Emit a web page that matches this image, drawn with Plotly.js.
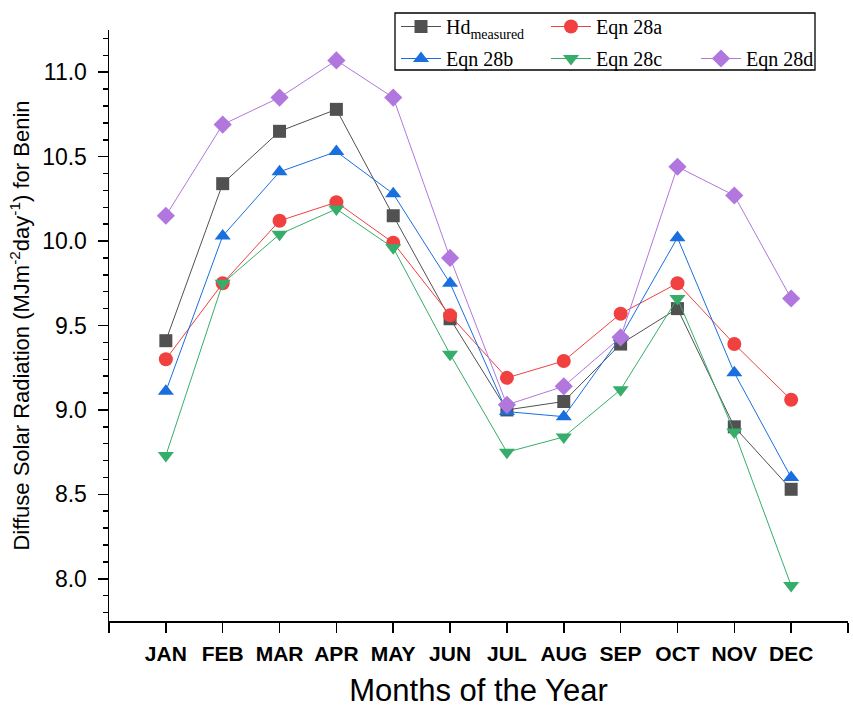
<!DOCTYPE html>
<html>
<head>
<meta charset="utf-8">
<script src="https://cdn.plot.ly/plotly-3.0.1.min.js"></script>
<style>html,body{margin:0;padding:0;background:#fff;}#chart{width:853px;height:708px;}</style>
</head>
<body>
<div id="chart"></div>
<script>
// ---- data ----
const months = ["JAN","FEB","MAR","APR","MAY","JUN","JUL","AUG","SEP","OCT","NOV","DEC"];
const monthIndex = [1,2,3,4,5,6,7,8,9,10,11,12];
const tickValues = [0,1,2,3,4,5,6,7,8,9,10,11,12,13];
const tickLabels = ["","JAN","FEB","MAR","APR","MAY","JUN","JUL","AUG","SEP","OCT","NOV","DEC","--"];

const hdMeasured = [9.41, 10.34, 10.65, 10.78, 10.15, 9.54, 9.00, 9.05, 9.39, 9.60, 8.90, 8.53];
const eqn28a     = [9.30, 9.75, 10.12, 10.23, 9.99, 9.56, 9.19, 9.29, 9.57, 9.75, 9.39, 9.06];
const eqn28b     = [9.11, 10.03, 10.41, 10.53, 10.28, 9.75, 8.99, 8.96, 9.43, 10.02, 9.22, 8.60];
const eqn28c     = [8.73, 9.75, 10.04, 10.19, 9.96, 9.33, 8.75, 8.84, 9.12, 9.66, 8.87, 7.96];
const eqn28d     = [10.15, 10.69, 10.85, 11.07, 10.85, 9.90, 9.03, 9.14, 9.43, 10.44, 10.27, 9.66];

const seriesNames = ["Hd<sub>measured</sub>", "Eqn 28a", "Eqn 28b", "Eqn 28c", "Eqn 28d"];
const seriesValues = [hdMeasured, eqn28a, eqn28b, eqn28c, eqn28d];
const seriesColors = ["#515151", "#F14040", "#1A6FDF", "#37AD6B", "#B177DE"];
const seriesSymbols = ["square", "circle", "triangle-up", "triangle-down", "diamond"];
const seriesSizes = [13, 14, 14, 14, 14];
const seriesLegends = ["legend", "legend", "legend2", "legend2", "legend2"];

const traces = seriesValues.map((vals, i) => ({
  type: "scatter",
  mode: "lines+markers",
  x: monthIndex,
  y: vals,
  name: seriesNames[i],
  legend: seriesLegends[i],
  line: {color: seriesColors[i], width: 1},
  marker: {color: seriesColors[i], symbol: seriesSymbols[i], size: seriesSizes[i], line: {width: 0}},
  hoverinfo: "x+y"
}));

const PL = 109, PR = 848, PT = 30, PB = 621;
const px2x = p => (p - PL) / (PR - PL);
const px2y = p => (PB - p) / (PB - PT);

const legendCommon = {
  orientation: "h",
  bgcolor: "rgba(0,0,0,0)",
  borderwidth: 0,
  entrywidth: 95,
  entrywidthmode: "pixels",
  itemwidth: 40,
  xanchor: "left",
  yanchor: "top",
  font: {family: "Liberation Serif", size: 20, color: "#000"}
};

const layout = {
  width: 853,
  height: 708,
  paper_bgcolor: "#fff",
  plot_bgcolor: "#fff",
  margin: {l: PL, r: 853 - PR, t: PT, b: 708 - PB},
  showlegend: true,
  legend: Object.assign({}, legendCommon, {x: px2x(396), y: px2y(7)}),
  legend2: Object.assign({}, legendCommon, {x: px2x(396), y: px2y(39)}),
  xaxis: {
    range: [0, 13],
    tickmode: "array",
    tickvals: tickValues,
    ticktext: tickLabels,
    ticks: "outside",
    ticklen: 10,
    tickwidth: 1.5,
    tickcolor: "#000",
    showline: true,
    linecolor: "#000",
    linewidth: 1.5,
    showgrid: false,
    zeroline: false,
    tickfont: {family: "Liberation Sans", size: 21, color: "#000", weight: "bold"},
    ticklabelstandoff: 3,
    title: {text: "Months of the Year", font: {family: "Liberation Sans", size: 31, color: "#000"}, standoff: 18}
  },
  yaxis: {
    range: [7.75, 11.25],
    tickmode: "linear",
    tick0: 8,
    dtick: 0.5,
    tickformat: ".1f",
    ticks: "outside",
    ticklen: 10,
    tickwidth: 1.5,
    tickcolor: "#000",
    minor: {dtick: 0.1, tick0: 8, ticks: "outside", ticklen: 5, tickwidth: 1.5, tickcolor: "#000", showgrid: false},
    showline: true,
    linecolor: "#000",
    linewidth: 1.5,
    showgrid: false,
    zeroline: false,
    tickfont: {family: "Liberation Sans", size: 23, color: "#000"},
    ticklabelstandoff: 6,
    title: {text: "Diffuse Solar Radiation (MJm<sup>-2</sup>day<sup>-1</sup>) for Benin", font: {family: "Liberation Sans", size: 22, color: "#000"}, standoff: 6}
  },
  shapes: [{
    type: "rect", xref: "paper", yref: "paper",
    x0: px2x(395), x1: px2x(815), y0: px2y(70), y1: px2y(13),
    line: {color: "#000", width: 1.3}, fillcolor: "rgba(0,0,0,0)"
  }]
};

Plotly.newPlot("chart", traces, layout, {displayModeBar: false, staticPlot: true});
</script>
</body>
</html>
